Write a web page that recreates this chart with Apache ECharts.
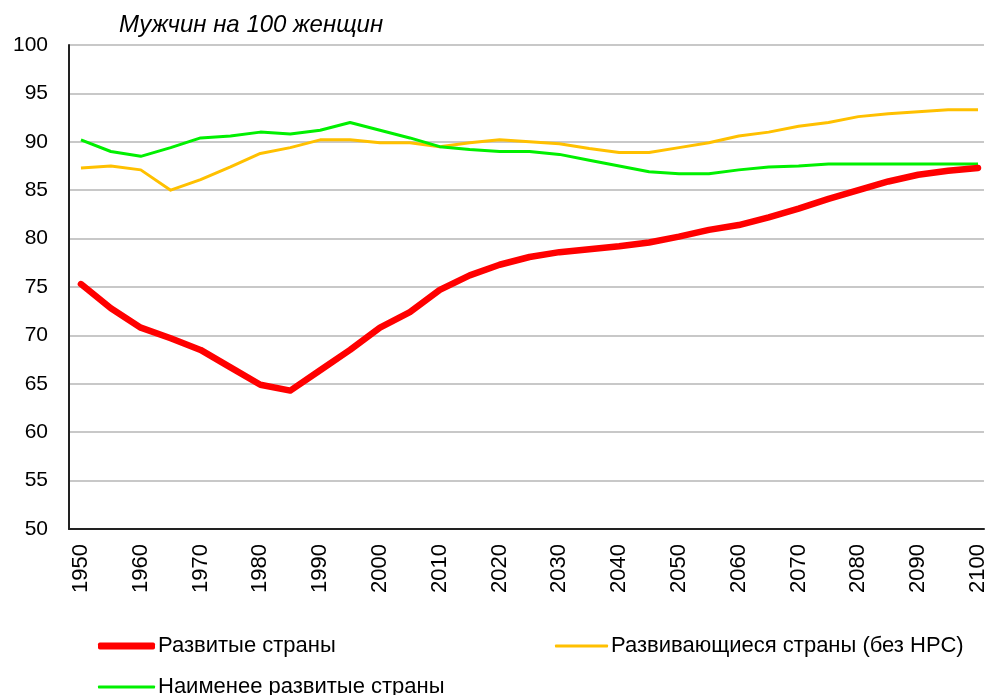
<!DOCTYPE html>
<html>
<head>
<meta charset="utf-8">
<script src="https://cdn.jsdelivr.net/npm/echarts@6/dist/echarts.min.js"></script>
<style>
  html, body { margin: 0; padding: 0; background: #fff; }
  #chart { width: 989px; height: 695px; }
</style>
</head>
<body>
<div id="chart"></div>
<script>
// годы (шаг 5 лет)
const years = [1950, 1955, 1960, 1965, 1970, 1975, 1980, 1985, 1990, 1995, 2000,
  2005, 2010, 2015, 2020, 2025, 2030, 2035, 2040, 2045, 2050,
  2055, 2060, 2065, 2070, 2075, 2080, 2085, 2090, 2095, 2100]

// Развитые страны
const developed = [75.3, 72.8, 70.8, 69.7, 68.5, 66.7, 64.9, 64.3, 66.4, 68.5, 70.8,
  72.4, 74.7, 76.2, 77.3, 78.1, 78.6, 78.9, 79.2, 79.6, 80.2,
  80.9, 81.4, 82.2, 83.1, 84.1, 85.0, 85.9, 86.6, 87.0, 87.3]

// Развивающиеся страны (без НРС)
const developing = [87.3, 87.5, 87.1, 85.0, 86.1, 87.4, 88.8, 89.4, 90.2, 90.2, 89.9,
  89.9, 89.5, 89.9, 90.2, 90.0, 89.8, 89.3, 88.9, 88.9, 89.4,
  89.9, 90.6, 91.0, 91.6, 92.0, 92.6, 92.9, 93.1, 93.3, 93.3]

// Наименее развитые страны
const leastDeveloped = [90.2, 89.0, 88.5, 89.4, 90.4, 90.6, 91.0, 90.8, 91.2, 92.0, 91.2,
  90.4, 89.5, 89.2, 89.0, 89.0, 88.7, 88.1, 87.5, 86.9, 86.7,
  86.7, 87.1, 87.4, 87.5, 87.7, 87.7, 87.7, 87.7, 87.7, 87.7]

const yTicks = { min: 50, max: 100, step: 5 }

const seriesNames = ['Развитые страны', 'Развивающиеся страны (без НРС)', 'Наименее развитые страны']

const font = 'Liberation Sans, Arial, sans-serif'

function pairs(values) {
  return years.map((y, i) => [y, values[i]])
}

const chartInstance = echarts.init(document.getElementById('chart'))

const legendBase = {
  orient: 'horizontal',
  padding: 0,
  itemGap: 0,
  icon: 'roundRect',
  textStyle: { fontFamily: font, fontSize: 22, color: '#000', padding: [0, 0, 0, -2] }
}

const option = {
  animation: false,
  backgroundColor: '#fff',
  title: {
    text: 'Мужчин на 100 женщин',
    left: 119,
    top: 13,
    padding: 0,
    textStyle: {
      fontFamily: font,
      fontSize: 24,
      fontStyle: 'italic',
      fontWeight: 'normal',
      color: '#000'
    }
  },
  legend: [
    Object.assign({}, legendBase, { left: 98, top: 635, itemWidth: 57, itemHeight: 7, data: [seriesNames[0]] }),
    Object.assign({}, legendBase, { left: 555, top: 635, itemWidth: 53, itemHeight: 3, data: [seriesNames[1]] }),
    Object.assign({}, legendBase, { left: 98, top: 676, itemWidth: 57, itemHeight: 3, data: [seriesNames[2]] })
  ],
  grid: {
    left: 69,
    right: 0,
    top: 45,
    bottom: 166,
    containLabel: false
  },
  xAxis: {
    type: 'value',
    min: 1948,
    max: 2101,
    interval: 2,
    axisLine: { show: true, onZero: false, lineStyle: { color: '#222', width: 2 } },
    axisTick: { show: false },
    splitLine: { show: false },
    axisLabel: {
      rotate: 90,
      margin: 15,
      fontFamily: font,
      fontSize: 22,
      color: '#000',
      showMaxLabel: false,
      formatter: v => (v % 10 === 0 ? String(v) : '')
    }
  },
  yAxis: {
    type: 'value',
    min: yTicks.min,
    max: yTicks.max,
    interval: yTicks.step,
    axisLine: { show: true, lineStyle: { color: '#222', width: 2 } },
    axisTick: { show: false },
    splitLine: { show: true, lineStyle: { color: '#c8c8c8', width: 2 } },
    axisLabel: {
      margin: 21,
      fontFamily: font,
      fontSize: 21,
      color: '#000'
    }
  },
  series: [
    {
      name: seriesNames[0],
      type: 'line',
      data: pairs(developed),
      showSymbol: false,
      symbol: 'none',
      z: 5,
      lineStyle: { color: '#ff0000', width: 6.5, cap: 'round', join: 'round' },
      itemStyle: { color: '#ff0000' }
    },
    {
      name: seriesNames[1],
      type: 'line',
      data: pairs(developing),
      showSymbol: false,
      symbol: 'none',
      z: 3,
      lineStyle: { color: '#ffc000', width: 3, join: 'round' },
      itemStyle: { color: '#ffc000' }
    },
    {
      name: seriesNames[2],
      type: 'line',
      data: pairs(leastDeveloped),
      showSymbol: false,
      symbol: 'none',
      z: 4,
      lineStyle: { color: '#00f000', width: 3, join: 'round' },
      itemStyle: { color: '#00f000' }
    }
  ]
}

chartInstance.setOption(option)
</script>
</body>
</html>
